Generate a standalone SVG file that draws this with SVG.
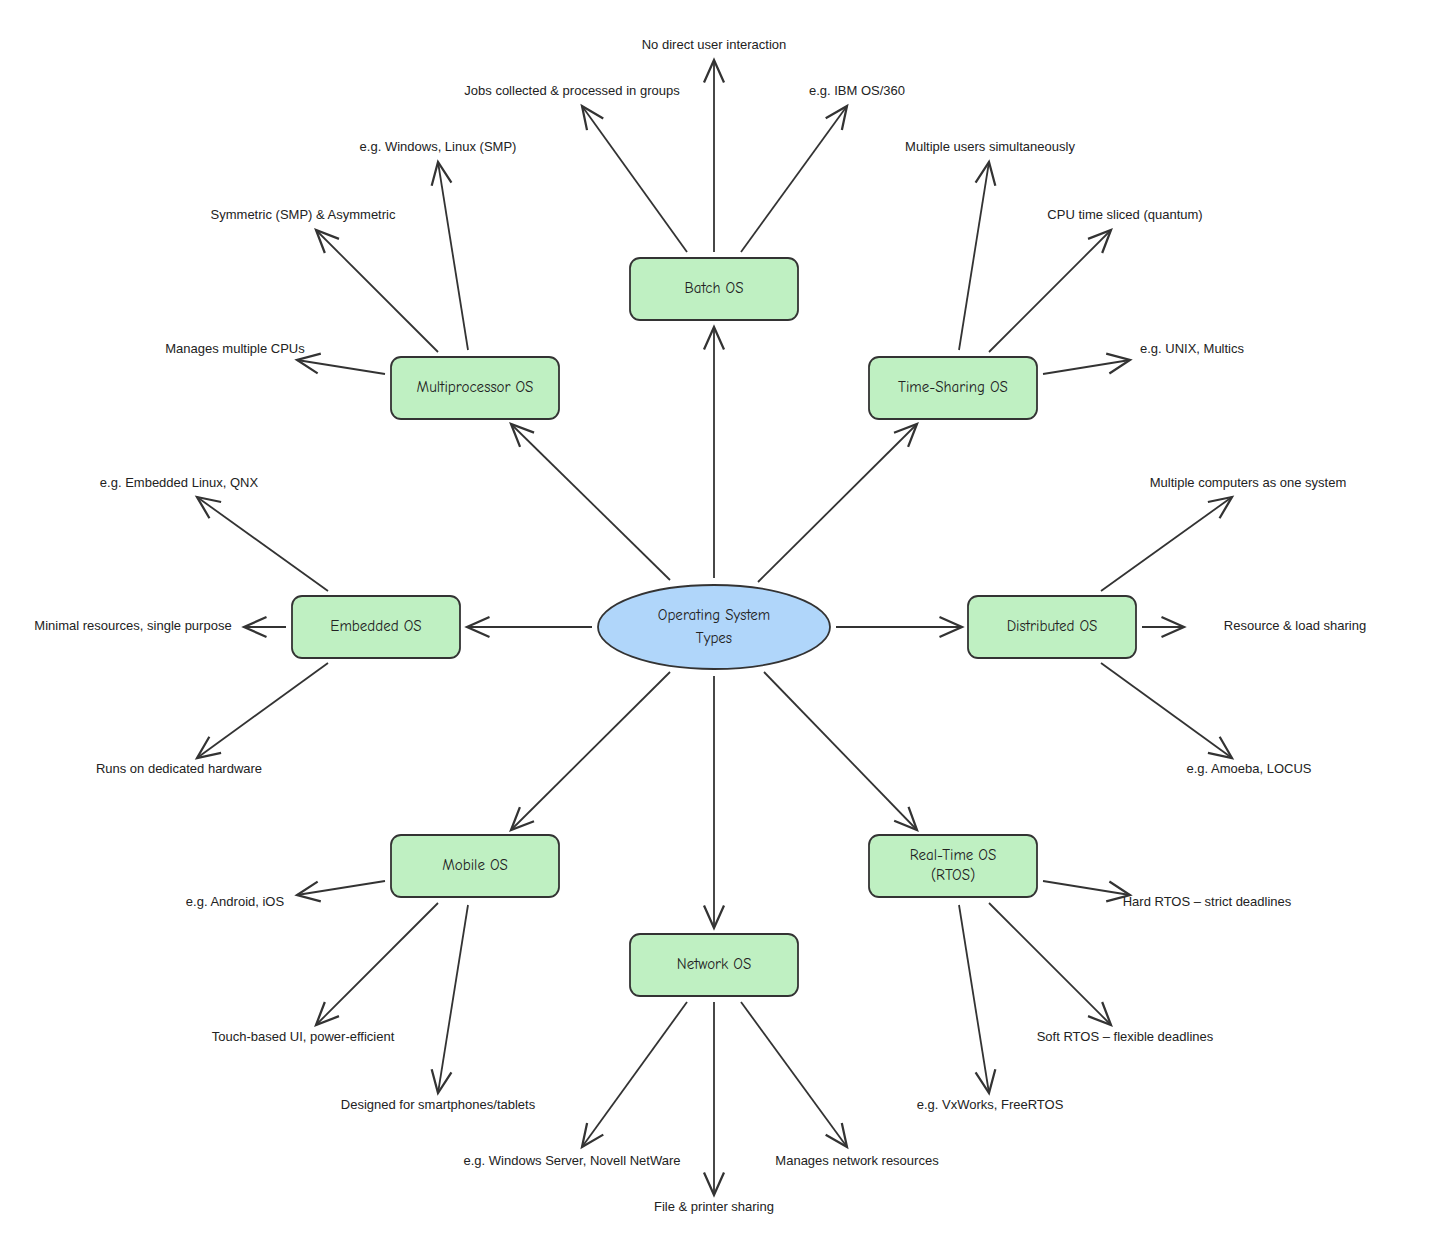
<svg xmlns="http://www.w3.org/2000/svg" width="1446" height="1254" viewBox="0 0 1446 1254">
<style>
.n rect{fill:#bff0c2;stroke:#333;stroke-width:1.8}
.t{font-family:"Comic Neue","Liberation Sans",sans-serif;font-size:15px;fill:#222;text-anchor:middle;dominant-baseline:middle}
.l{font-family:"Liberation Sans",sans-serif;font-size:13px;fill:#222;text-anchor:middle;dominant-baseline:middle}
#edges line{stroke:#333;stroke-width:1.8;marker-end:url(#a)}
</style>
<defs><marker id="a" markerUnits="userSpaceOnUse" markerWidth="30" markerHeight="30" refX="20" refY="10" viewBox="0 0 24 20" orient="auto"><path d="M2 2 L20 10 L2 18" fill="none" stroke="#333" stroke-width="1.8"/></marker></defs>
<rect width="1446" height="1254" fill="#fff"/>
<g id="edges">
<line x1="714" y1="578" x2="714" y2="327"/><line x1="670" y1="580" x2="511" y2="424"/><line x1="758" y1="582" x2="917" y2="424"/>
<line x1="592" y1="627" x2="467" y2="627"/><line x1="836" y1="627" x2="962" y2="627"/><line x1="670" y1="672" x2="511" y2="830"/>
<line x1="764" y1="672" x2="917" y2="830"/><line x1="714" y1="676" x2="714" y2="928"/>
<line x1="687" y1="252" x2="582" y2="106"/><line x1="714" y1="252" x2="714" y2="60"/><line x1="741" y1="252" x2="847" y2="106"/>
<line x1="385" y1="374" x2="297" y2="360"/><line x1="438" y1="352" x2="316" y2="230"/><line x1="468" y1="350" x2="438" y2="162"/>
<line x1="959" y1="350" x2="989" y2="162"/><line x1="989" y1="352" x2="1111" y2="230"/><line x1="1043" y1="374" x2="1130" y2="360"/>
<line x1="328" y1="591" x2="197" y2="497"/><line x1="286" y1="627" x2="244" y2="627"/><line x1="328" y1="663" x2="197" y2="758"/>
<line x1="1101" y1="591" x2="1232" y2="497"/><line x1="1142" y1="627" x2="1184" y2="627"/><line x1="1101" y1="663" x2="1232" y2="758"/>
<line x1="385" y1="881" x2="297" y2="895"/><line x1="438" y1="903" x2="316" y2="1025"/><line x1="468" y1="905" x2="438" y2="1093"/>
<line x1="1043" y1="881" x2="1130" y2="895"/><line x1="989" y1="903" x2="1111" y2="1025"/><line x1="959" y1="905" x2="989" y2="1093"/>
<line x1="687" y1="1002" x2="582" y2="1147"/><line x1="714" y1="1002" x2="714" y2="1195"/><line x1="741" y1="1002" x2="847" y2="1147"/>
</g>
<g id="center"><ellipse cx="714" cy="627" rx="116" ry="42" fill="#b0d6fa" stroke="#333" stroke-width="1.8"/><text class="t" x="714" y="616" font-size="18">Operating System</text><text class="t" x="714" y="639" font-size="18">Types</text></g>
<g id="batch" class="n"><rect x="630" y="258" width="168" height="62" rx="10"/><text class="t" x="714" y="289">Batch OS</text></g>
<g id="multi" class="n"><rect x="391" y="357" width="168" height="62" rx="10"/><text class="t" x="475" y="388">Multiprocessor OS</text></g>
<g id="ts" class="n"><rect x="869" y="357" width="168" height="62" rx="10"/><text class="t" x="953" y="388">Time-Sharing OS</text></g>
<g id="emb" class="n"><rect x="292" y="596" width="168" height="62" rx="10"/><text class="t" x="376" y="627">Embedded OS</text></g>
<g id="dist" class="n"><rect x="968" y="596" width="168" height="62" rx="10"/><text class="t" x="1052" y="627">Distributed OS</text></g>
<g id="mob" class="n"><rect x="391" y="835" width="168" height="62" rx="10"/><text class="t" x="475" y="866">Mobile OS</text></g>
<g id="rtos" class="n"><rect x="869" y="835" width="168" height="62" rx="10"/><text class="t" x="953" y="856">Real-Time OS</text><text class="t" x="953" y="876">(RTOS)</text></g>
<g id="net" class="n"><rect x="630" y="934" width="168" height="62" rx="10"/><text class="t" x="714" y="965">Network OS</text></g>
<g id="labels">
<text class="l" x="572" y="92">Jobs collected &amp; processed in groups</text><text class="l" x="714" y="46">No direct user interaction</text><text class="l" x="857" y="92">e.g. IBM OS/360</text>
<text class="l" x="235" y="350">Manages multiple CPUs</text><text class="l" x="303" y="216">Symmetric (SMP) &amp; Asymmetric</text><text class="l" x="438" y="148">e.g. Windows, Linux (SMP)</text>
<text class="l" x="990" y="148">Multiple users simultaneously</text><text class="l" x="1125" y="216">CPU time sliced (quantum)</text><text class="l" x="1192" y="350">e.g. UNIX, Multics</text>
<text class="l" x="179" y="484">e.g. Embedded Linux, QNX</text><text class="l" x="133" y="627">Minimal resources, single purpose</text><text class="l" x="179" y="770">Runs on dedicated hardware</text>
<text class="l" x="1248" y="484">Multiple computers as one system</text><text class="l" x="1295" y="627">Resource &amp; load sharing</text><text class="l" x="1249" y="770">e.g. Amoeba, LOCUS</text>
<text class="l" x="235" y="903">e.g. Android, iOS</text><text class="l" x="303" y="1038">Touch-based UI, power-efficient</text><text class="l" x="438" y="1106">Designed for smartphones/tablets</text>
<text class="l" x="1207" y="903">Hard RTOS – strict deadlines</text><text class="l" x="1125" y="1038">Soft RTOS – flexible deadlines</text><text class="l" x="990" y="1106">e.g. VxWorks, FreeRTOS</text>
<text class="l" x="572" y="1162">e.g. Windows Server, Novell NetWare</text><text class="l" x="714" y="1208">File &amp; printer sharing</text><text class="l" x="857" y="1162">Manages network resources</text>
</g>
</svg>
